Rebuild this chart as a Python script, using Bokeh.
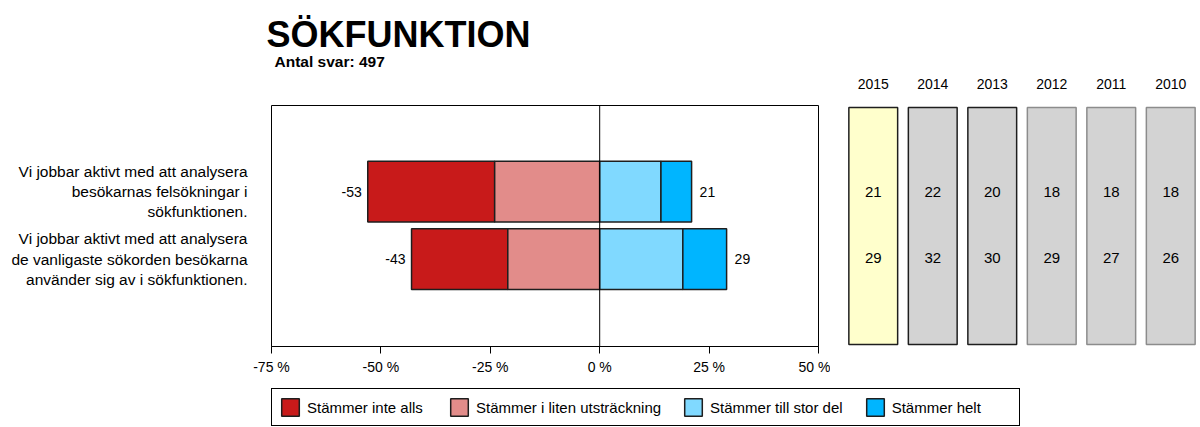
from bokeh.plotting import figure
from bokeh.models import (Range1d, FactorRange, FixedTicker, Span, Legend,
                          LegendItem, ColumnDataSource)
from bokeh.layouts import row, column
from bokeh.embed import file_html
from bokeh.resources import INLINE
from bokeh.core.properties import value

# ---------------- data ----------------
title = "SÖKFUNKTION"
subtitle = "Antal svar: 497"
statements = [
    "Vi jobbar aktivt med att analysera\nbesökarnas felsökningar i\nsökfunktionen.",
    "Vi jobbar aktivt med att analysera\nde vanligaste sökorden besökarna\nanvänder sig av i sökfunktionen.",
]
series = ["Stämmer inte alls", "Stämmer i liten utsträckning",
          "Stämmer till stor del", "Stämmer helt"]
inte_alls = [29, 22]
liten = [24, 21]
stor_del = [14, 19]
helt = [7, 10]
neg_total = [-53, -43]
pos_total = [21, 29]

years = ["2015", "2014", "2013", "2012", "2011", "2010"]
hist_row1 = [21, 22, 20, 18, 18, 18]
hist_row2 = [29, 32, 30, 29, 27, 26]

tick_values = [-75, -50, -25, 0, 25, 50]
tick_labels = ["-75 %", "-50 %", "-25 %", "0 %", "25 %", "50 %"]

# ---------------- styles ----------------
FONT = "Liberation Sans"
colors = ["#C81A1A", "#E28C8A", "#80D9FF", "#00B5FF"]
edge = "#1e1e1e"
year_fill = ["#FFFFCC", "#D3D3D3", "#D3D3D3", "#D3D3D3", "#D3D3D3", "#D3D3D3"]
year_line = ["#1e1e1e", "#1e1e1e", "#1e1e1e", "#8c8c8c", "#8c8c8c", "#8c8c8c"]

rows_y = [2, 1]  # first statement on top
yA = Range1d(-0.296, 3.274)
pad = 0.03  # keeps the year boxes' borders inside their frame


def clean(p):
    p.xgrid.visible = False
    p.ygrid.visible = False
    p.outline_line_color = None
    p.border_fill_color = "white"
    p.background_fill_color = "white"


# ---------------- title strip ----------------
pT = figure(width=1200, height=70, x_range=Range1d(0, 1200), y_range=Range1d(70, 0),
            output_backend="svg", toolbar_location=None, min_border=0)
pT.axis.visible = False
clean(pT)
pT.text(x=[266], y=[34], text=[title], text_align="left", text_baseline="middle",
        text_font=value(FONT), text_font_size="36px", text_font_style="bold",
        text_color="black")
pT.text(x=[274], y=[61], text=[subtitle], text_align="left", text_baseline="middle",
        text_font=value(FONT), text_font_size="15.5px", text_font_style="bold",
        text_color="black")

# ---------------- statement labels ----------------
pS = figure(width=251, height=310, x_range=Range1d(0, 251), y_range=yA,
            output_backend="svg", toolbar_location=None, min_border_left=0,
            min_border_right=0, min_border_top=35, min_border_bottom=34)
pS.axis.visible = False
clean(pS)
pS.text(x=[247, 247], y=rows_y, text=statements, text_align="right",
        text_baseline="middle", text_font=value(FONT), text_font_size="15.5px",
        text_line_height=1.2, text_color="black")

# ---------------- main diverging chart ----------------
pA = figure(width=579, height=310, x_range=Range1d(-75, 50), y_range=yA,
            output_backend="svg", toolbar_location=None,
            min_border_left=20, min_border_right=12, min_border_top=35,
            min_border_bottom=34)
pA.yaxis.visible = False
clean(pA)
pA.outline_line_color = "black"
pA.outline_line_alpha = 1
pA.outline_line_width = 1

xa = pA.xaxis[0]
xa.ticker = FixedTicker(ticks=tick_values)
xa.major_label_overrides = {v: l for v, l in zip(tick_values, tick_labels)}
xa.minor_tick_line_color = None
xa.minor_tick_out = 0
xa.minor_tick_in = 0
xa.major_tick_in = 0
xa.major_tick_out = 7
xa.major_tick_line_color = "black"
xa.axis_line_color = "black"
xa.major_label_standoff = 5
xa.major_label_text_font = FONT
xa.major_label_text_font_size = "14px"
xa.major_label_text_color = "black"

pA.add_layout(Span(location=0, dimension="height", line_color="black", line_width=1))

lefts = [[-(a + b) for a, b in zip(inte_alls, liten)],
         [-b for b in liten],
         [0, 0],
         list(stor_del)]
rights = [[-b for b in liten],
          [0, 0],
          list(stor_del),
          [c + d for c, d in zip(stor_del, helt)]]
for i in range(4):
    src = ColumnDataSource(dict(y=rows_y, left=lefts[i], right=rights[i]))
    pA.hbar(y="y", left="left", right="right", height=0.9, source=src,
            fill_color=colors[i], line_color=edge, line_width=1.5)

pA.text(x=neg_total, y=rows_y, text=[str(v) for v in neg_total],
        text_align="right", text_baseline="middle", x_offset=-6,
        text_font=value(FONT), text_font_size="14px", text_color="black")
pA.text(x=pos_total, y=rows_y, text=[str(v) for v in pos_total],
        text_align="left", text_baseline="middle", x_offset=8,
        text_font=value(FONT), text_font_size="14px", text_color="black")

# ---------------- year comparison boxes ----------------
pB = figure(width=370, height=310, x_range=FactorRange(*years),
            y_range=Range1d(yA.start - pad, yA.end + pad), x_axis_location="above",
            output_backend="svg", toolbar_location=None,
            min_border_left=13, min_border_right=0, min_border_top=35,
            min_border_bottom=34)
pB.yaxis.visible = False
clean(pB)
xb = pB.xaxis[0]
xb.axis_line_color = None
xb.major_tick_line_color = None
xb.minor_tick_line_color = None
xb.major_tick_out = 0
xb.major_tick_in = 0
xb.minor_tick_out = 0
xb.minor_tick_in = 0
xb.major_label_standoff = 17
xb.major_label_text_font = FONT
xb.major_label_text_font_size = "14px"
xb.major_label_text_color = "black"

pB.vbar(x=years, top=yA.end, bottom=yA.start, width=0.82,
        fill_color=year_fill, line_color=year_line, line_width=1.5)
pB.text(x=years, y=[rows_y[0]] * len(years), text=[str(v) for v in hist_row1],
        text_align="center", text_baseline="middle",
        text_font=value(FONT), text_font_size="15px", text_color="black")
pB.text(x=years, y=[rows_y[1]] * len(years), text=[str(v) for v in hist_row2],
        text_align="center", text_baseline="middle",
        text_font=value(FONT), text_font_size="15px", text_color="black")

# ---------------- legend strip ----------------
pL = figure(width=1200, height=47, x_range=Range1d(0, 1), y_range=Range1d(0, 1),
            output_backend="svg", toolbar_location=None, min_border=0)
pL.axis.visible = False
clean(pL)
items = []
for name, c in zip(series, colors):
    # placeholder glyph outside the visible range, used only for the swatch
    r = pL.rect(x=[-5], y=[-5], width=1, height=1, fill_color=c,
                line_color=edge, line_width=1.5)
    items.append(LegendItem(label=name, renderers=[r]))
leg = Legend(items=items, orientation="horizontal", location=(271, 1),
             border_line_color="black", border_line_width=1, border_line_alpha=1,
             background_fill_color="white", background_fill_alpha=1,
             label_text_font=FONT, label_text_font_size="15px",
             label_text_color="black", glyph_width=22, glyph_height=22,
             padding=7, spacing=21, label_standoff=6, label_width=120, margin=0)
pL.add_layout(leg, "center")

layout = column(pT, row(pS, pA, pB), pL)
open("out.html", "w").write(file_html(layout, INLINE))
